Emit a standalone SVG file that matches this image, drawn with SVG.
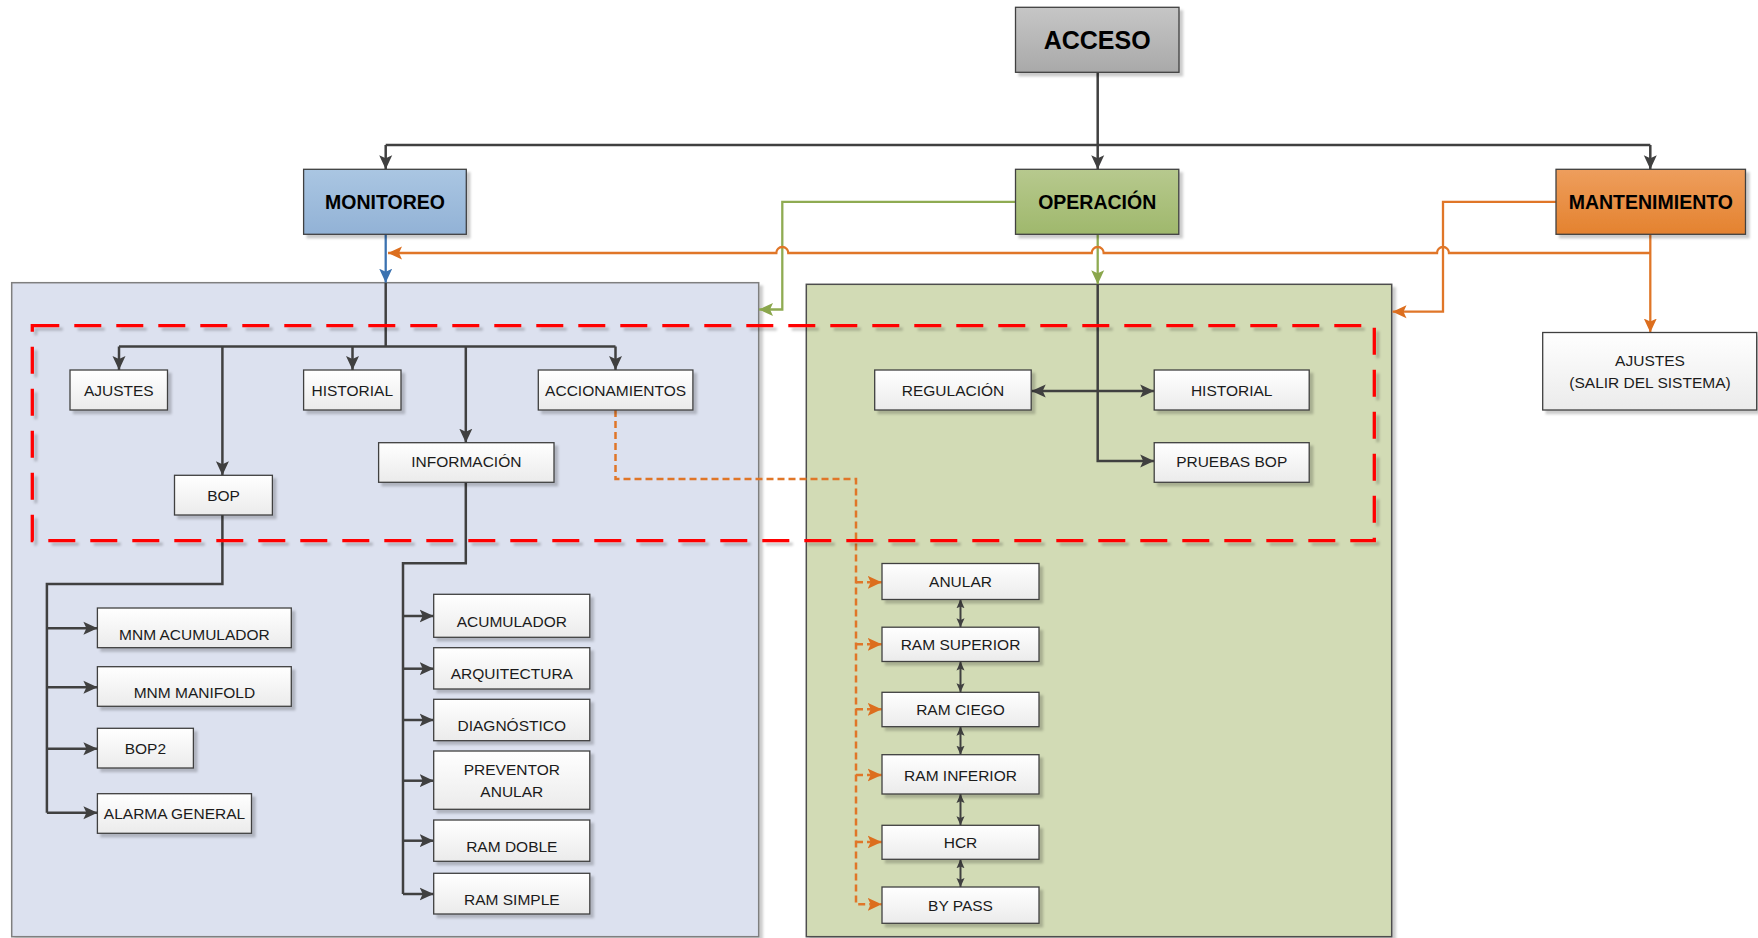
<svg xmlns="http://www.w3.org/2000/svg" width="1758" height="938" viewBox="0 0 1758 938">
  <defs>
    <linearGradient id="gWhite" x1="0" y1="0" x2="0" y2="1">
      <stop offset="0" stop-color="#ffffff"/>
      <stop offset="1" stop-color="#ebebeb"/>
    </linearGradient>
    <linearGradient id="gGray" x1="0" y1="0" x2="0" y2="1">
      <stop offset="0" stop-color="#c6c6c6"/>
      <stop offset="1" stop-color="#a9a9a9"/>
    </linearGradient>
    <linearGradient id="gBlue" x1="0" y1="0" x2="0" y2="1">
      <stop offset="0" stop-color="#aac6e2"/>
      <stop offset="1" stop-color="#92b2d6"/>
    </linearGradient>
    <linearGradient id="gGreen" x1="0" y1="0" x2="0" y2="1">
      <stop offset="0" stop-color="#b7c98e"/>
      <stop offset="1" stop-color="#9fb86c"/>
    </linearGradient>
    <linearGradient id="gOrange" x1="0" y1="0" x2="0" y2="1">
      <stop offset="0" stop-color="#ee9e5d"/>
      <stop offset="1" stop-color="#e4822f"/>
    </linearGradient>
    <filter id="sh" x="-10%" y="-10%" width="130%" height="140%">
      <feDropShadow dx="3.5" dy="3.5" stdDeviation="1.2" flood-color="#000" flood-opacity="0.2"/>
    </filter>
    <marker id="aD" viewBox="0 0 14 14" refX="14" refY="7" markerWidth="14" markerHeight="14" markerUnits="userSpaceOnUse" orient="auto-start-reverse">
      <path d="M0,0.5 L14,7 L0,13.5 L3,7 z" fill="#404040"/>
    </marker>
    <marker id="aS" viewBox="0 0 10 10" refX="10" refY="5" markerWidth="9" markerHeight="9" markerUnits="userSpaceOnUse" orient="auto-start-reverse">
      <path d="M0,0.5 L10,5 L0,9.5 L2,5 z" fill="#404040"/>
    </marker>
    <marker id="aO" viewBox="0 0 14 14" refX="14" refY="7" markerWidth="14" markerHeight="14" markerUnits="userSpaceOnUse" orient="auto">
      <path d="M0,0.5 L14,7 L0,13.5 L3,7 z" fill="#dc6e1e"/>
    </marker>
    <marker id="aG" viewBox="0 0 14 14" refX="14" refY="7" markerWidth="14" markerHeight="14" markerUnits="userSpaceOnUse" orient="auto">
      <path d="M0,0.5 L14,7 L0,13.5 L3,7 z" fill="#8aa64c"/>
    </marker>
    <marker id="aB" viewBox="0 0 14 14" refX="14" refY="7" markerWidth="14" markerHeight="14" markerUnits="userSpaceOnUse" orient="auto">
      <path d="M0,0.5 L14,7 L0,13.5 L3,7 z" fill="#3b72b0"/>
    </marker>
  </defs>
  <style>
    .box { fill: url(#gWhite); stroke: #404040; stroke-width: 1.3; filter: url(#sh); }
    .t { font-family: "Liberation Sans", Arial, sans-serif; font-size: 15.5px; fill: #1b1b1b; text-anchor: middle; }
    .tb { font-family: "Liberation Sans", Arial, sans-serif; font-size: 19.5px; font-weight: bold; fill: #000; text-anchor: middle; }
    .c { fill: none; stroke: #404040; stroke-width: 2.5; }
    .ca { marker-end: url(#aD); }
    .cs { fill: none; stroke: #404040; stroke-width: 2; marker-start: url(#aS); marker-end: url(#aS); }
    .co { fill: none; stroke: #e07628; stroke-width: 2.3; }
    .cod { fill: none; stroke: #e07628; stroke-width: 2.5; stroke-dasharray: 7 4; }
    .cg { fill: none; stroke: #8fab52; stroke-width: 2.3; }
    .panel { stroke-width: 1.5; filter: url(#sh); }
  </style>

  <!-- background areas -->
  <g id="panel-monitoreo">
    <rect class="panel" x="11.7" y="282.7" width="747" height="654" fill="#dce1ef" stroke="#7f7f7f"/>
  </g>
  <g id="panel-operacion">
    <rect class="panel" x="806.3" y="284.3" width="585.4" height="652.4" fill="#d2dbb5" stroke="#4d4d4d"/>
  </g>

  <!-- connectors -->
  <g id="connectors">
    <!-- ACCESO to the three main modules -->
    <path class="c" d="M1097.7,72.5 V145"/>
    <path class="c" d="M385.7,145 H1650.3"/>
    <path class="c ca" d="M385.7,145 V169.3"/>
    <path class="c ca" d="M1097.7,145 V169.3"/>
    <path class="c ca" d="M1650.3,145 V169.3"/>

    <!-- MONITOREO -->
    <path fill="none" stroke="#3b72b0" stroke-width="2.3" marker-end="url(#aB)" d="M385.7,234.3 V282.7"/>
    <path class="c" d="M385.7,282.7 V346.5"/>
    <path class="c" d="M119,346.5 H615.5"/>
    <path class="c ca" d="M119,346.5 V370"/>
    <path class="c ca" d="M352.5,346.5 V370"/>
    <path class="c ca" d="M615.5,346.5 V370"/>
    <path class="c ca" d="M222.4,346.5 V475.3"/>
    <path class="c ca" d="M465.8,346.5 V442.7"/>

    <!-- BOP branch -->
    <path class="c" d="M222.4,515 V584 H46.9 V812.7"/>
    <path class="c ca" d="M46.9,628.3 H97.4"/>
    <path class="c ca" d="M46.9,687.3 H97.4"/>
    <path class="c ca" d="M46.9,748.7 H97.4"/>
    <path class="c ca" d="M46.9,812.7 H97.4"/>

    <!-- INFORMACIÓN branch -->
    <path class="c" d="M465.8,482.3 V563.3 H403 V894"/>
    <path class="c ca" d="M403,616 H433.7"/>
    <path class="c ca" d="M403,668.7 H433.7"/>
    <path class="c ca" d="M403,720 H433.7"/>
    <path class="c ca" d="M403,780.7 H433.7"/>
    <path class="c ca" d="M403,840.7 H433.7"/>
    <path class="c ca" d="M403,894 H433.7"/>

    <!-- OPERACIÓN -->
    <path class="cg" marker-end="url(#aG)" d="M1015.5,201.8 H782.3 V309.5 H759"/>
    <path class="cg" marker-end="url(#aG)" d="M1097.7,234.3 V284.3"/>
    <path class="c ca" d="M1097.7,284.3 V461 H1154.2"/>
    <path class="c" marker-start="url(#aD)" marker-end="url(#aD)" d="M1031.7,391 H1154.2"/>

    <!-- MANTENIMIENTO -->
    <path class="co" marker-end="url(#aO)" d="M1556,201.8 H1443 V311.7 H1392.5"/>
    <path class="co" marker-end="url(#aO)" d="M1650.3,234.3 V332.5"/>
    <path class="co" marker-end="url(#aO)" d="M1650.3,253 H1449 a6,6 0 0 0 -12,0 H1103.7 a6,6 0 0 0 -12,0 H788.3 a6,6 0 0 0 -12,0 H388"/>

    <!-- ACCIONAMIENTOS to the preventers -->
    <path class="cod" marker-end="url(#aO)" d="M615.5,410 V479 H856 V904.3 H881.7"/>
    <path class="cod" marker-end="url(#aO)" d="M856,582.3 H881.7"/>
    <path class="cod" marker-end="url(#aO)" d="M856,644.3 H881.7"/>
    <path class="cod" marker-end="url(#aO)" d="M856,709.3 H881.7"/>
    <path class="cod" marker-end="url(#aO)" d="M856,775 H881.7"/>
    <path class="cod" marker-end="url(#aO)" d="M856,842 H881.7"/>

    <!-- links between preventers -->
    <path class="cs" d="M960.5,599.3 V627.2"/>
    <path class="cs" d="M960.5,661.5 V692.3"/>
    <path class="cs" d="M960.5,726.7 V754.7"/>
    <path class="cs" d="M960.5,794 V825.3"/>
    <path class="cs" d="M960.5,859.3 V887"/>
  </g>

  <!-- screen group outline -->
  <g id="grupo-pantallas">
    <rect x="32.3" y="325.7" width="1342" height="215" fill="none" stroke="#ff0000" stroke-width="3.3" stroke-dasharray="27 15" filter="url(#sh)"/>
  </g>

  <!-- main modules -->
  <g id="acceso">
    <rect x="1015.5" y="7.3" width="163.5" height="65" fill="url(#gGray)" stroke="#404040" stroke-width="1.3" filter="url(#sh)"/>
    <text class="tb" x="1097.2" y="49" style="font-size:25px">ACCESO</text>
  </g>
  <g id="monitoreo">
    <rect x="303.6" y="169.3" width="162.7" height="65" fill="url(#gBlue)" stroke="#404040" stroke-width="1.3" filter="url(#sh)"/>
    <text class="tb" x="385" y="208.7">MONITOREO</text>
  </g>
  <g id="operacion">
    <rect x="1015.5" y="169.3" width="163.3" height="65" fill="url(#gGreen)" stroke="#404040" stroke-width="1.3" filter="url(#sh)"/>
    <text class="tb" x="1097.2" y="208.7">OPERACIÓN</text>
  </g>
  <g id="mantenimiento">
    <rect x="1556" y="169.3" width="189.5" height="65" fill="url(#gOrange)" stroke="#404040" stroke-width="1.3" filter="url(#sh)"/>
    <text class="tb" x="1650.8" y="208.7">MANTENIMIENTO</text>
  </g>

  <!-- MONITOREO screens -->
  <g id="mon-ajustes">
    <rect class="box" x="70" y="370" width="97.5" height="40"/>
    <text class="t" x="118.8" y="395.5">AJUSTES</text>
  </g>
  <g id="mon-historial">
    <rect class="box" x="303.6" y="370" width="97.4" height="40"/>
    <text class="t" x="352.3" y="395.5">HISTORIAL</text>
  </g>
  <g id="mon-accionamientos">
    <rect class="box" x="538.3" y="370" width="154.6" height="40"/>
    <text class="t" x="615.6" y="395.5">ACCIONAMIENTOS</text>
  </g>
  <g id="mon-informacion">
    <rect class="box" x="378.6" y="442.7" width="175.4" height="39.6"/>
    <text class="t" x="466.3" y="467.2">INFORMACIÓN</text>
  </g>
  <g id="mon-bop">
    <rect class="box" x="174.5" y="475.3" width="97.9" height="39.7"/>
    <text class="t" x="223.5" y="500.5">BOP</text>
  </g>
  <g id="mnm-acumulador">
    <rect class="box" x="97.4" y="608" width="193.9" height="39.7"/>
    <text class="t" x="194.4" y="639.8">MNM ACUMULADOR</text>
  </g>
  <g id="mnm-manifold">
    <rect class="box" x="97.4" y="666.7" width="193.9" height="39.6"/>
    <text class="t" x="194.4" y="697.8">MNM MANIFOLD</text>
  </g>
  <g id="bop2">
    <rect class="box" x="97.4" y="728.3" width="96" height="39.7"/>
    <text class="t" x="145.4" y="754.2">BOP2</text>
  </g>
  <g id="alarma-general">
    <rect class="box" x="97.4" y="793.7" width="154.1" height="39.6"/>
    <text class="t" x="174.5" y="818.8">ALARMA GENERAL</text>
  </g>
  <g id="info-acumulador">
    <rect class="box" x="433.7" y="594.3" width="156.1" height="43"/>
    <text class="t" x="511.8" y="627.2">ACUMULADOR</text>
  </g>
  <g id="info-arquitectura">
    <rect class="box" x="433.7" y="647.7" width="156.1" height="41.3"/>
    <text class="t" x="511.8" y="678.5">ARQUITECTURA</text>
  </g>
  <g id="info-diagnostico">
    <rect class="box" x="433.7" y="699.3" width="156.1" height="41.4"/>
    <text class="t" x="511.8" y="730.5">DIAGNÓSTICO</text>
  </g>
  <g id="info-preventor-anular">
    <rect class="box" x="433.7" y="751" width="156.1" height="58.3"/>
    <text class="t" x="511.8" y="774.8">PREVENTOR</text>
    <text class="t" x="511.8" y="796.5">ANULAR</text>
  </g>
  <g id="info-ram-doble">
    <rect class="box" x="433.7" y="820" width="156.1" height="41.3"/>
    <text class="t" x="511.8" y="851.5">RAM DOBLE</text>
  </g>
  <g id="info-ram-simple">
    <rect class="box" x="433.7" y="873.3" width="156.1" height="40.7"/>
    <text class="t" x="511.8" y="904.8">RAM SIMPLE</text>
  </g>

  <!-- OPERACIÓN screens -->
  <g id="op-regulacion">
    <rect class="box" x="874.7" y="370" width="156.5" height="40"/>
    <text class="t" x="953" y="396.2">REGULACIÓN</text>
  </g>
  <g id="op-historial">
    <rect class="box" x="1154.2" y="370" width="155" height="40"/>
    <text class="t" x="1231.7" y="396.2">HISTORIAL</text>
  </g>
  <g id="op-pruebas-bop">
    <rect class="box" x="1154.2" y="442.7" width="155" height="39.6"/>
    <text class="t" x="1231.7" y="467.2">PRUEBAS BOP</text>
  </g>
  <g id="op-anular">
    <rect class="box" x="882" y="563.5" width="157" height="36"/>
    <text class="t" x="960.5" y="587.2">ANULAR</text>
  </g>
  <g id="op-ram-superior">
    <rect class="box" x="882" y="627.2" width="157" height="34.3"/>
    <text class="t" x="960.5" y="649.8">RAM SUPERIOR</text>
  </g>
  <g id="op-ram-ciego">
    <rect class="box" x="882" y="692.3" width="157" height="34.4"/>
    <text class="t" x="960.5" y="714.8">RAM CIEGO</text>
  </g>
  <g id="op-ram-inferior">
    <rect class="box" x="882" y="754.7" width="157" height="39.3"/>
    <text class="t" x="960.5" y="780.8">RAM INFERIOR</text>
  </g>
  <g id="op-hcr">
    <rect class="box" x="882" y="825.3" width="157" height="34"/>
    <text class="t" x="960.5" y="847.8">HCR</text>
  </g>
  <g id="op-by-pass">
    <rect class="box" x="882" y="887" width="157" height="36.3"/>
    <text class="t" x="960.5" y="910.8">BY PASS</text>
  </g>

  <!-- MANTENIMIENTO screen -->
  <g id="mant-ajustes">
    <rect class="box" x="1542.7" y="332.5" width="214" height="77.5"/>
    <text class="t" x="1650" y="365.5">AJUSTES</text>
    <text class="t" x="1650" y="387.8">(SALIR DEL SISTEMA)</text>
  </g>
</svg>
